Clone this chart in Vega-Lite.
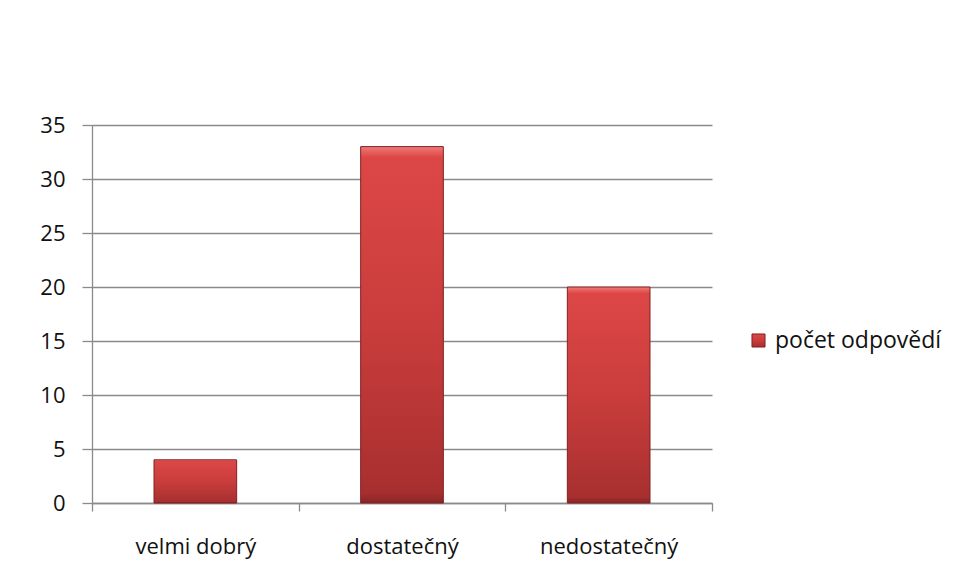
{
  "$schema": "https://vega.github.io/schema/vega-lite/v6.json",
  "width": 620,
  "height": 378,
  "autosize": {"type": "none"},
  "padding": {"left": 92, "top": 125, "right": 245, "bottom": 78},
  "background": "white",
  "config": {
    "view": {"stroke": null},
    "font": "Open Sans",
    "axis": {
      "labelFont": "Open Sans",
      "labelFontSize": 22,
      "labelColor": "#111111",
      "domainColor": "#8a8a8a",
      "tickColor": "#8a8a8a",
      "gridColor": "#8a8a8a",
      "domainWidth": 1.3,
      "tickWidth": 1.3,
      "gridWidth": 1.5
    }
  },
  "data": {
    "values": [
      {"hodnoceni": "velmi dobrý", "pocet": 4, "serie": "počet odpovědí"},
      {"hodnoceni": "dostatečný", "pocet": 33, "serie": "počet odpovědí"},
      {"hodnoceni": "nedostatečný", "pocet": 20, "serie": "počet odpovědí"}
    ]
  },
  "mark": {
    "type": "bar",
    "width": {"band": 0.4},
    "strokeWidth": 1,
    "fill": {
      "gradient": "linear",
      "x1": 0, "y1": 0, "x2": 0, "y2": 1,
      "stops": [
        {"offset": 0, "color": "#f07a78"},
        {"offset": 0.03, "color": "#dc4746"},
        {"offset": 0.5, "color": "#c93d3c"},
        {"offset": 0.97, "color": "#a82f2f"},
        {"offset": 1, "color": "#8a2525"}
      ]
    }
  },
  "encoding": {
    "x": {
      "field": "hodnoceni",
      "type": "nominal",
      "sort": null,
      "scale": {"paddingInner": 0, "paddingOuter": 0},
      "axis": {
        "title": null,
        "labelAngle": 0,
        "tickBand": "extent",
        "tickSize": 8,
        "labelPadding": 25,
        "grid": false
      }
    },
    "y": {
      "field": "pocet",
      "type": "quantitative",
      "scale": {"domain": [0, 35], "nice": false},
      "axis": {
        "title": null,
        "values": [0, 5, 10, 15, 20, 25, 30, 35],
        "tickSize": 10,
        "labelPadding": 17,
        "grid": true
      }
    },
    "stroke": {
      "field": "serie",
      "type": "nominal",
      "scale": {"range": ["#7e2222"]},
      "legend": {
        "title": null,
        "orient": "none",
        "legendX": 655,
        "legendY": 204,
        "padding": 0,
        "symbolType": "square",
        "symbolSize": 170,
        "symbolFillColor": "#c93d3c",
        "symbolStrokeColor": "#8a2525",
        "symbolStrokeWidth": 1,
        "labelFont": "Open Sans",
        "labelFontSize": 23,
        "labelColor": "#111111",
        "labelLimit": 0,
        "labelOffset": 5
      }
    }
  }
}
